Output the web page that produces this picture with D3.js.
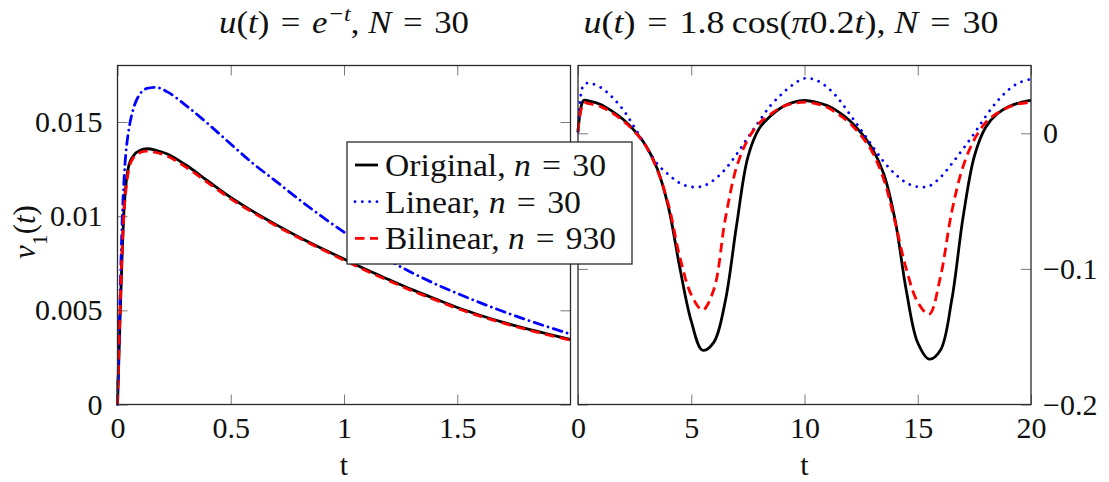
<!DOCTYPE html>
<html>
<head>
<meta charset="utf-8">
<script src="https://cdn.jsdelivr.net/npm/d3@7"></script>
<style>
  html, body { margin: 0; padding: 0; background: #fff; }
  svg text { font-family: "Liberation Serif", "DejaVu Serif", serif; fill: #111; }
</style>
</head>
<body>
<svg id="chart" width="1109" height="482"></svg>
<script>
// ---- Left panel: response to u(t) = e^{-t} ----
const tLeft = [0, 0.01, 0.02, 0.03, 0.04, 0.05, 0.07, 0.1, 0.13, 0.17, 0.22, 0.3, 0.4, 0.5,
  0.6, 0.7, 0.8, 0.9, 1.0, 1.1, 1.2, 1.3, 1.4, 1.5, 1.6, 1.7, 1.8, 1.9, 2.0];
const originalLeft = [0, 0.0040, 0.0078, 0.0106, 0.0120, 0.0127, 0.0132, 0.01350, 0.01358, 0.01350,
  0.01330, 0.01273, 0.01186, 0.01100, 0.01024, 0.00955, 0.00890, 0.00830, 0.00772, 0.00715,
  0.00662, 0.00610, 0.00562, 0.00515, 0.00474, 0.00437, 0.00404, 0.00374, 0.00346];
const linearLeft = [0, 0.0050, 0.0095, 0.0122, 0.0137, 0.0146, 0.0157, 0.0165, 0.01678, 0.01684,
  0.01660, 0.01590, 0.01490, 0.01383, 0.01278, 0.01185, 0.01090, 0.01000, 0.00915, 0.00836,
  0.00764, 0.00700, 0.00642, 0.00590, 0.00541, 0.00495, 0.00452, 0.00412, 0.00374];
const bilinearLeft = [0, 0.0045, 0.0080, 0.0104, 0.0117, 0.0125, 0.0131, 0.01338, 0.01345, 0.01338,
  0.01318, 0.01262, 0.01177, 0.01092, 0.01018, 0.00949, 0.00885, 0.00825, 0.00766, 0.00709,
  0.00656, 0.00604, 0.00557, 0.00510, 0.00469, 0.00433, 0.00400, 0.00370, 0.00341];

// ---- Right panel: response to u(t) = 1.8 cos(0.2 pi t) ----
const tRight = [0, 0.25, 0.5, 1, 1.5, 2, 2.5, 3, 3.5, 4, 4.5, 5, 5.5, 6, 6.5, 7, 7.5, 8, 8.5, 9, 9.5,
  10, 10.5, 11, 11.5, 12, 12.5, 13, 13.5, 14, 14.5, 15, 15.5, 16, 16.5, 17, 17.5, 18, 18.5, 19, 19.5, 20];
const originalRight = [0.0012, 0.0242, 0.0237, 0.0213, 0.0164, 0.0102, 0.0018, -0.0092, -0.0262,
  -0.0550, -0.0995, -0.1385, -0.1600, -0.1540, -0.1240, -0.0680, -0.0175, 0.0035, 0.0128, 0.0192,
  0.0228, 0.0242, 0.0230, 0.0204, 0.0158, 0.0093, 0.0003, -0.0115, -0.0300, -0.0640, -0.1165,
  -0.1545, -0.1665, -0.1600, -0.1230, -0.0620, -0.0168, 0.0045, 0.0142, 0.0195, 0.0225, 0.0242];
const linearRight = [0.0012, 0.0358, 0.0370, 0.0338, 0.0268, 0.0172, 0.0042, -0.0095, -0.0225,
  -0.0305, -0.0368, -0.0395, -0.0390, -0.0345, -0.0265, -0.0155, -0.0030, 0.0090, 0.0205, 0.0290,
  0.0360, 0.0405, 0.0393, 0.0340, 0.0255, 0.0140, 0.0025, -0.0095, -0.0210, -0.0300, -0.0365,
  -0.0395, -0.0390, -0.0325, -0.0225, -0.0115, 0.0000, 0.0125, 0.0235, 0.0320, 0.0375, 0.0400];
const bilinearRight = [0.0012, 0.0223, 0.0218, 0.0197, 0.0152, 0.0090, 0.0012, -0.0095, -0.0270,
  -0.0530, -0.0915, -0.1190, -0.1303, -0.1150, -0.0635, -0.0250, -0.0045, 0.0075, 0.0140, 0.0195,
  0.0220, 0.0230, 0.0218, 0.0192, 0.0140, 0.0075, -0.0018, -0.0140, -0.0340, -0.0655, -0.1005,
  -0.1245, -0.1335, -0.1060, -0.0580, -0.0245, -0.0045, 0.0080, 0.0148, 0.0192, 0.0218, 0.0230];

// ---- Ticks ----
const xTicksLeft = [0, 0.5, 1, 1.5];
const xTickLabelsLeft = ["0", "0.5", "1", "1.5"];
const yTicksLeft = [0, 0.005, 0.01, 0.015];
const yTickLabelsLeft = ["0", "0.005", "0.01", "0.015"];
const xTicksRight = [0, 5, 10, 15, 20];
const xTickLabelsRight = ["0", "5", "10", "15", "20"];
const yTicksRight = [-0.2, -0.1, 0];
const yTickLabelsRight = ["\u22120.2", "\u22120.1", "0"];

const seriesNames = ["Original", "Linear", "Bilinear"];
const seriesOrders = ["30", "30", "930"];

// ---- Layout ----
const svg = d3.select("#chart");
const FS = 30;     // tick labels and axis labels
const FS_T = 31;   // titles and legend entries
const SERIF = "'Liberation Serif', 'DejaVu Serif', serif";
const plotTop = 65.5, plotBottom = 404.5;

const xL = d3.scaleLinear().domain([0, 2]).range([117.5, 570.5]);
const yL = d3.scaleLinear().domain([0, 0.018]).range([plotBottom, plotTop]);
const xR = d3.scaleLinear().domain([0, 20]).range([578, 1031]);
const yR = d3.scaleLinear().domain([-0.2, 0.05]).range([plotBottom, plotTop]);

const styles = {
  Original: { color: "#000", dash: null, cap: "butt" },
  LinearL: { color: "#0000ff", dash: "9 5.5 0.01 5.5", cap: "round" },
  LinearR: { color: "#0000ff", dash: "0.01 7.3", cap: "round" },
  Bilinear: { color: "#ff0000", dash: "9.5 5.5", cap: "butt" }
};

function drawAxes(g, x, y, xt, xtl, yt, ytl, yLabelsRight) {
  const tickColor = "#7a7a7a";
  const fmt = (vals, labels) => (d) => labels[vals.indexOf(d)];

  const ax = g.append("g").attr("transform", `translate(0,${plotBottom})`)
    .call(d3.axisBottom(x).tickValues(xt).tickFormat(fmt(xt, xtl)).tickSize(-10).tickPadding(12));
  const axTop = g.append("g").attr("transform", `translate(0,${plotTop})`)
    .call(d3.axisTop(x).tickValues(xt).tickFormat("").tickSize(-10));
  let ayL, ayR;
  if (yLabelsRight) {
    ayL = g.append("g").attr("transform", `translate(${x.range()[0]},0)`)
      .call(d3.axisLeft(y).tickValues(yt).tickFormat("").tickSize(-10));
    ayR = g.append("g").attr("transform", `translate(${x.range()[1]},0)`)
      .call(d3.axisRight(y).tickValues(yt).tickFormat(fmt(yt, ytl)).tickSize(-10).tickPadding(12));
  } else {
    ayL = g.append("g").attr("transform", `translate(${x.range()[0]},0)`)
      .call(d3.axisLeft(y).tickValues(yt).tickFormat(fmt(yt, ytl)).tickSize(-10).tickPadding(15));
    ayR = g.append("g").attr("transform", `translate(${x.range()[1]},0)`)
      .call(d3.axisRight(y).tickValues(yt).tickFormat("").tickSize(-10));
  }
  [ax, axTop, ayL, ayR].forEach(a => {
    a.attr("font-family", SERIF);
    a.select(".domain").remove();
    a.selectAll(".tick line").attr("stroke", tickColor).attr("stroke-width", 1);
    a.selectAll(".tick text")
      .attr("font-family", SERIF)
      .attr("font-size", FS).attr("fill", "#111");
  });
}

function drawFrame(g, x) {
  g.append("rect")
    .attr("x", x.range()[0]).attr("y", plotTop)
    .attr("width", x.range()[1] - x.range()[0]).attr("height", plotBottom - plotTop)
    .attr("fill", "none").attr("stroke", "#2a2a2a").attr("stroke-width", 1.3);
}

function drawSeries(g, x, y, ts, vals, st, curve) {
  const line = d3.line().x(d => x(d[0])).y(d => y(d[1])).curve(curve);
  g.append("path")
    .datum(ts.map((t, i) => [t, vals[i]]))
    .attr("d", line)
    .attr("fill", "none")
    .attr("stroke", st.color)
    .attr("stroke-width", 2.8)
    .attr("stroke-linecap", st.cap)
    .attr("stroke-linejoin", "round")
    .attr("stroke-dasharray", st.dash);
}

// Left panel
const gL = svg.append("g");
drawAxes(gL, xL, yL, xTicksLeft, xTickLabelsLeft, yTicksLeft, yTickLabelsLeft, false);
drawSeries(gL, xL, yL, tLeft, originalLeft, styles.Original, d3.curveMonotoneX);
drawSeries(gL, xL, yL, tLeft, linearLeft, styles.LinearL, d3.curveMonotoneX);
drawSeries(gL, xL, yL, tLeft, bilinearLeft, styles.Bilinear, d3.curveMonotoneX);
drawFrame(gL, xL);

// Right panel
const gR = svg.append("g");
drawAxes(gR, xR, yR, xTicksRight, xTickLabelsRight, yTicksRight, yTickLabelsRight, true);
drawSeries(gR, xR, yR, tRight, originalRight, styles.Original, d3.curveCatmullRom.alpha(0.5));
drawSeries(gR, xR, yR, tRight, linearRight, styles.LinearR, d3.curveCatmullRom.alpha(0.5));
drawSeries(gR, xR, yR, tRight, bilinearRight, styles.Bilinear, d3.curveCatmullRom.alpha(0.5));
drawFrame(gR, xR);

// Rich text helper: parts are [text, style] with style in {"", "i", "sup", "sub"}
function richText(sel, parts, size) {
  sel.attr("font-family", SERIF).attr("font-size", size);
  parts.forEach(([txt, s]) => {
    const ts = sel.append("tspan").text(txt);
    if (s === "i") ts.attr("font-style", "italic");
    if (s === "sup") ts.attr("font-size", size * 0.7).attr("font-style", "italic").attr("baseline-shift", "super");
    if (s === "sub") ts.attr("font-size", size * 0.7).attr("baseline-shift", "sub");
  });
  return sel;
}

const EQ = "\u2004=\u2004";

// Titles (stretched slightly to the width of the typeset math)
richText(svg.append("text").attr("x", 344).attr("y", 33).attr("text-anchor", "middle")
  .attr("textLength", 250).attr("lengthAdjust", "spacingAndGlyphs"),
  [["u", "i"], ["(", ""], ["t", "i"], [")" + EQ, ""], ["e", "i"], ["\u2212t", "sup"],
   [", ", ""], ["N", "i"], [EQ + "30", ""]], FS_T);
richText(svg.append("text").attr("x", 791).attr("y", 33).attr("text-anchor", "middle")
  .attr("textLength", 415).attr("lengthAdjust", "spacingAndGlyphs"),
  [["u", "i"], ["(", ""], ["t", "i"], [")" + EQ + "1.8\u2009cos(", ""], ["\u03c0", "i"], ["0.2", ""],
   ["t", "i"], ["), ", ""], ["N", "i"], [EQ + "30", ""]], FS_T);

// Axis labels
const midL = (xL.range()[0] + xL.range()[1]) / 2;
const midR = (xR.range()[0] + xR.range()[1]) / 2;
svg.append("text").attr("x", midL).attr("y", 475).attr("text-anchor", "middle")
  .attr("font-family", SERIF).attr("font-size", FS).text("t");
svg.append("text").attr("x", midR).attr("y", 475).attr("text-anchor", "middle")
  .attr("font-family", SERIF).attr("font-size", FS).text("t");
richText(svg.append("text")
  .attr("transform", "translate(35,232) rotate(-90)")
  .attr("text-anchor", "middle"),
  [["v", "i"], ["1", "sub"], ["(", ""], ["t", "i"], [")", ""]], FS_T);

// Legend
const legend = svg.append("g");
legend.append("rect")
  .attr("x", 347).attr("y", 142).attr("width", 285).attr("height", 122)
  .attr("fill", "#fff").attr("stroke", "#2a2a2a").attr("stroke-width", 1.3);
const legendStyles = [styles.Original, styles.LinearR, styles.Bilinear];
const legendWidths = [221, 196, 231];
seriesNames.forEach((name, i) => {
  const yy = 165 + i * 36.7;
  legend.append("line")
    .attr("x1", 355).attr("x2", 378).attr("y1", yy).attr("y2", yy)
    .attr("stroke", legendStyles[i].color).attr("stroke-width", 2.8)
    .attr("stroke-linecap", legendStyles[i].cap)
    .attr("stroke-dasharray", legendStyles[i].dash);
  richText(legend.append("text").attr("x", 385).attr("y", yy).attr("dy", "0.35em")
    .attr("textLength", legendWidths[i]).attr("lengthAdjust", "spacingAndGlyphs"),
    [[name + ", ", ""], ["n", "i"], [EQ + seriesOrders[i], ""]], FS_T);
});
</script>
</body>
</html>
